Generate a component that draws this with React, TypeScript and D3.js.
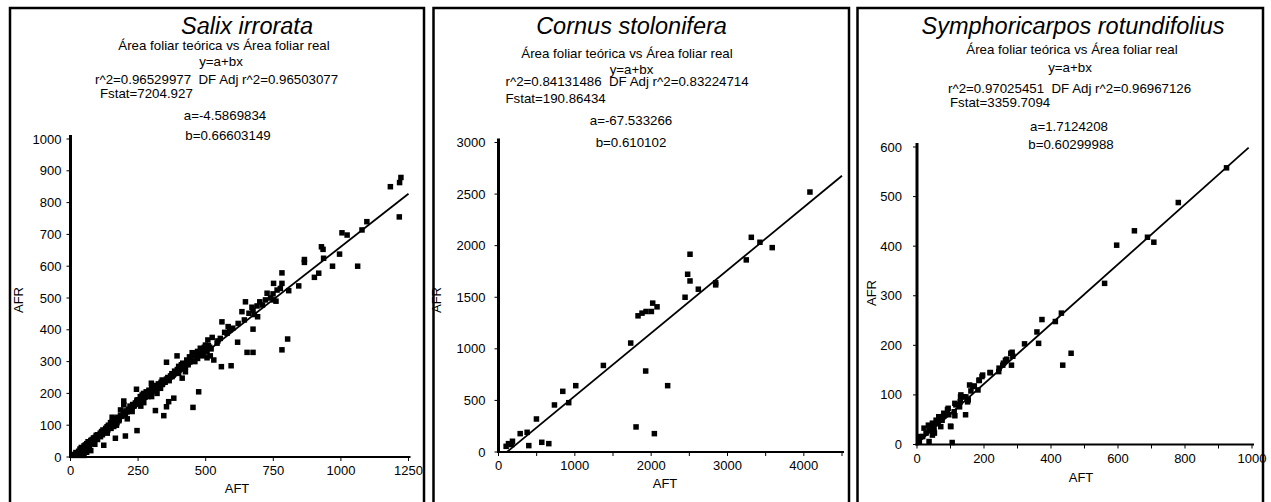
import React from 'react';
import * as d3 from 'd3';

const FONT = '"Liberation Sans", Arial, Helvetica, sans-serif';

type Pt = [number, number];

// Salix irrorata leaves: [AFT, AFR]
const salixPoints: Pt[] = [
  [1222, 879], [1217, 863], [1183, 850], [1216, 755], [1096, 740], [1078, 714], [1023, 698], [1004, 705],
  [995, 638], [1062, 600], [969, 600], [928, 661], [934, 653], [865, 621], [865, 612], [936, 625],
  [918, 578], [902, 565], [844, 538], [807, 523], [782, 579], [782, 546], [776, 530], [751, 546],
  [749, 513], [764, 525], [727, 515], [721, 494], [751, 494], [700, 488], [690, 475], [671, 471],
  [692, 441], [675, 462], [647, 488], [634, 457], [643, 431], [675, 402], [782, 337], [803, 371],
  [653, 329], [675, 329], [618, 361], [594, 287], [558, 284], [560, 425], [583, 410], [589, 399],
  [579, 389], [554, 373], [542, 358], [524, 376], [508, 368], [499, 352], [480, 342], [487, 326],
  [456, 326], [443, 310], [517, 318], [530, 305], [419, 284], [425, 268], [413, 248],
  [760, 490], [740, 500], [710, 478], [680, 448], [660, 452], [620, 420], [600, 405], [570, 392],
  [545, 365], [520, 340], [505, 330], [490, 318], [470, 310], [505, 312], [460, 300], [435, 290],
  [394, 318], [355, 298], [450, 328], [474, 205], [453, 156], [355, 158], [345, 130], [314, 146],
  [382, 185], [363, 174], [246, 83], [203, 66], [166, 59], [123, 37], [86, 43], [197, 176],
  [228, 143], [246, 179], [244, 213], [299, 232], [298, 205], [333, 216], [339, 242], [376, 253],
  [400, 263], [425, 282], [443, 300], [466, 315], [474, 326], [154, 125], [160, 96], [136, 75],
  [111, 64], [68, 38], [43, 22], [25, 12], [179, 114], [203, 132], [185, 148], [271, 171],
  [286, 190], [222, 150], [197, 164],
  [10, 5], [15, 8], [20, 14], [30, 18], [35, 25], [40, 30], [45, 28], [50, 35], [55, 38], [60, 42],
  [62, 30], [65, 48], [70, 45], [75, 52], [80, 55], [85, 60], [88, 50], [92, 62], [95, 68], [100, 70],
  [105, 65], [110, 75], [115, 80], [118, 70], [120, 85], [125, 82], [130, 90], [135, 95], [138, 85],
  [140, 100], [145, 96], [148, 108], [150, 105], [155, 112], [158, 100], [162, 110], [165, 115],
  [170, 120], [172, 108], [175, 125], [180, 118], [185, 130], [190, 128], [195, 140], [200, 135],
  [205, 145], [210, 142], [215, 150], [220, 160], [225, 155], [230, 165], [235, 160], [240, 170],
  [245, 175], [250, 180], [255, 172], [258, 190], [262, 185], [265, 195], [270, 200], [275, 188],
  [280, 205], [285, 198], [290, 210], [295, 200], [300, 215], [305, 220], [310, 208], [315, 225],
  [320, 218], [325, 230], [330, 225], [335, 235], [340, 228], [345, 240], [350, 235], [355, 245],
  [360, 250], [365, 240], [370, 255], [375, 262], [380, 258], [385, 270], [390, 265], [395, 275],
  [400, 285], [405, 278], [410, 290], [415, 295], [420, 288], [430, 305], [435, 295], [440, 315],
  [445, 305], [460, 318], [465, 325], [470, 332], [480, 320], [490, 335], [495, 345], [500, 340],
  [510, 350], [515, 345], [40, 10], [55, 20], [70, 28], [90, 40], [100, 55], [150, 90], [170, 100],
  [210, 120], [260, 160], [300, 190], [320, 200], [75, 20], [60, 15], [50, 5], [30, 5],
];

// Cornus stolonifera leaves: [AFT, AFR]
const cornusPoints: Pt[] = [
  [4080, 2520], [3312, 2081], [3425, 2033], [3586, 1981], [3246, 1862], [2509, 1917], [2478, 1723],
  [2509, 1658], [2618, 1578], [2845, 1620], [2845, 1640], [2444, 1500], [1828, 1320], [1880, 1346],
  [1933, 1362], [2003, 1362], [2020, 1443], [2077, 1407], [1732, 1056], [1374, 839], [1928, 785],
  [2216, 643], [1012, 643], [842, 588], [920, 478], [733, 456], [497, 320], [375, 191], [284, 178],
  [183, 104], [131, 81], [100, 55], [174, 72], [397, 62], [567, 94], [659, 81], [1802, 243], [2042, 178],
];

// Symphoricarpos rotundifolius leaves: [AFT, AFR]
const symphPoints: Pt[] = [
  [924, 558], [780, 488], [649, 431], [707, 408], [688, 418], [596, 402], [560, 325], [373, 252],
  [413, 248], [431, 265], [358, 227], [363, 204], [460, 184], [435, 160], [321, 203], [284, 186],
  [282, 160], [286, 178], [264, 170], [256, 160], [244, 147], [219, 145], [194, 137], [185, 129],
  [182, 110], [167, 117], [157, 120], [153, 90], [140, 96], [130, 96], [145, 60], [113, 83],
  [113, 58], [100, 37], [105, 4], [93, 73], [80, 63], [65, 56], [57, 49], [46, 43], [34, 39],
  [21, 33], [11, 16], [6, 6], [36, 6], [46, 19], [51, 29], [75, 49], [95, 60], [127, 76],
  [280, 184], [268, 172], [258, 164], [245, 154], [218, 145], [196, 140], [186, 130], [171, 118],
  [161, 108], [146, 96], [131, 100], [151, 86], [129, 86], [116, 80], [111, 66], [91, 70], [101, 36],
  [79, 57], [66, 53], [62, 43], [47, 36], [37, 29], [27, 23], [17, 16], [7, 6], [52, 23], [71, 36],
];

const speciesNames = ['Salix irrorata', 'Cornus stolonifera', 'Symphoricarpos rotundifolius'];
const r2Labels = ['0.96529977', '0.84131486', '0.97025451'];
const adjR2Labels = ['0.96503077', '0.83224714', '0.96967126'];
const fstatLabels = ['7204.927', '190.86434', '3359.7094'];
const interceptA = [-4.5869834, -67.533266, 1.7124208];
const slopeB = [0.66603149, 0.610102, 0.60299988];
const fitRanges: Pt[] = [[7, 1250], [110, 4500], [5, 990]];

const salixXTicks = [0, 250, 500, 750, 1000, 1250];
const salixXLabels = [0, 250, 500, 750, 1000, 1250];
const salixYTicks = [0, 100, 200, 300, 400, 500, 600, 700, 800, 900, 1000];
const cornusXTicks = [0, 500, 1000, 1500, 2000, 2500, 3000, 3500, 4000, 4500];
const cornusXLabels = [0, 1000, 2000, 3000, 4000];
const cornusYTicks = [0, 500, 1000, 1500, 2000, 2500, 3000];
const symphXTicks = [0, 100, 200, 300, 400, 500, 600, 700, 800, 900, 1000];
const symphXLabels = [0, 200, 400, 600, 800, 1000];
const symphYTicks = [0, 100, 200, 300, 400, 500, 600];

const xAxisTitle = 'AFT';
const yAxisTitle = 'AFR';
const subtitle = 'Área foliar teórica vs Área foliar real';
const modelText = 'y=a+bx';

interface Layout {
  frame: [number, number];
  xDom: Pt; xRange: Pt; yDom: Pt; yRange: Pt;
  yLabelGap: number;
  title: Pt; sub: Pt; eq: Pt; r2: Pt; fstat: Pt; a: Pt; b: Pt;
  xTitle: Pt; yTitle: Pt;
}

const layouts: Layout[] = [
  {
    frame: [10, 414], xDom: [0, 1250], xRange: [70.5, 408.5], yDom: [0, 1000], yRange: [457, 139],
    yLabelGap: 9,
    title: [247, 34], sub: [224, 50], eq: [221, 65.5], r2: [95, 83.5], fstat: [100, 97.5],
    a: [225, 120], b: [228, 139.5], xTitle: [237, 493], yTitle: [23, 300],
  },
  {
    frame: [433.5, 415.5], xDom: [0, 4500], xRange: [498.5, 842], yDom: [0, 3000], yRange: [452, 142.5],
    yLabelGap: 13,
    title: [631.5, 34], sub: [627, 58.3], eq: [631.5, 73.5], r2: [505.5, 86], fstat: [505.5, 103],
    a: [631, 125.3], b: [631, 146.7], xTitle: [665, 488], yTitle: [440.5, 300],
  },
  {
    frame: [857.5, 405.5], xDom: [0, 1000], xRange: [917, 1252], yDom: [0, 600], yRange: [444.5, 147],
    yLabelGap: 15,
    title: [1073, 33.5], sub: [1072, 54.3], eq: [1070, 72], r2: [948, 92.5], fstat: [950, 107],
    a: [1069, 131], b: [1071, 149.3], xTitle: [1081, 482], yTitle: [876, 293],
  },
];

const panelData = [
  { points: salixPoints, xTicks: salixXTicks, xLabels: salixXLabels, yTicks: salixYTicks },
  { points: cornusPoints, xTicks: cornusXTicks, xLabels: cornusXLabels, yTicks: cornusYTicks },
  { points: symphPoints, xTicks: symphXTicks, xLabels: symphXLabels, yTicks: symphYTicks },
];

function Panel({ i }: { i: number }) {
  const L = layouts[i];
  const D = panelData[i];
  const x = d3.scaleLinear().domain(L.xDom).range(L.xRange);
  const y = d3.scaleLinear().domain(L.yDom).range(L.yRange);
  const fit = (v: number) => interceptA[i] + slopeB[i] * v;
  const lineGen = d3.line<number>().x((v) => x(v)).y((v) => y(fit(v)));
  const [x0, x1] = L.xRange;
  const [yBottom, yTop] = L.yRange;
  const size = 5.5;
  const textStyle = { fontFamily: FONT, fontSize: 13.3, fill: '#000' } as const;
  const tickStyle = { fontFamily: FONT, fontSize: 13, fill: '#000' } as const;

  return (
    <g>
      <rect x={L.frame[0]} y={8} width={L.frame[1]} height={520} fill="#fff" stroke="#000" strokeWidth={2.5} />

      <text x={L.title[0]} y={L.title[1]} textAnchor="middle"
        style={{ fontFamily: FONT, fontSize: 23.5, fontStyle: 'italic' }}>{speciesNames[i]}</text>
      <text x={L.sub[0]} y={L.sub[1]} textAnchor="middle" style={textStyle}>{subtitle}</text>
      <text x={L.eq[0]} y={L.eq[1]} textAnchor="middle" style={textStyle}>{modelText}</text>
      <text x={L.r2[0]} y={L.r2[1]} style={{ ...textStyle, whiteSpace: 'pre' }}>
        {`r^2=${r2Labels[i]}  DF Adj r^2=${adjR2Labels[i]}`}
      </text>
      <text x={L.fstat[0]} y={L.fstat[1]} style={textStyle}>{`Fstat=${fstatLabels[i]}`}</text>
      <text x={L.a[0]} y={L.a[1]} textAnchor="middle" style={textStyle}>{`a=${interceptA[i]}`}</text>
      <text x={L.b[0]} y={L.b[1]} textAnchor="middle" style={textStyle}>{`b=${slopeB[i]}`}</text>

      {/* axes */}
      <line x1={x0} x2={x0} y1={yBottom + 1} y2={yTop - 4} stroke="#000" strokeWidth={3} />
      <line x1={x0 - 1.5} x2={x1 + 2} y1={yBottom} y2={yBottom} stroke="#000" strokeWidth={2} />
      {D.yTicks.map((t) => (
        <g key={`yt${t}`}>
          <line x1={x0 - 4} x2={x0} y1={y(t)} y2={y(t)} stroke="#000" strokeWidth={1} />
          <text x={x0 - L.yLabelGap} y={y(t)} dy="0.35em" textAnchor="end" style={tickStyle}>{t}</text>
        </g>
      ))}
      {D.xTicks.map((t) => (
        <line key={`xt${t}`} x1={x(t)} x2={x(t)} y1={yBottom} y2={yBottom + 4} stroke="#000" strokeWidth={1} />
      ))}
      {D.xLabels.map((t) => (
        <text key={`xl${t}`} x={x(t)} y={yBottom + 18} textAnchor="middle" style={tickStyle}>{t}</text>
      ))}
      <text x={L.xTitle[0]} y={L.xTitle[1]} textAnchor="middle" style={tickStyle}>{xAxisTitle}</text>
      <text transform={`translate(${L.yTitle[0]},${L.yTitle[1]}) rotate(-90)`} textAnchor="middle" style={tickStyle}>
        {yAxisTitle}
      </text>

      {/* observations */}
      {D.points.map(([px, py], k) => (
        <rect key={k} x={x(px) - size / 2} y={y(py) - size / 2} width={size} height={size} fill="#000" />
      ))}

      {/* fitted regression */}
      <path d={lineGen(fitRanges[i]) ?? ''} fill="none" stroke="#000" strokeWidth={1.8} />
    </g>
  );
}

export default function App() {
  return (
    <svg width={1271} height={502} viewBox="0 0 1271 502"
      style={{ position: 'absolute', left: 0, top: 0, display: 'block', background: '#fff' }}>
      <rect x={0} y={0} width={1271} height={502} fill="#fff" />
      {[0, 1, 2].map((i) => <Panel key={i} i={i} />)}
    </svg>
  );
}
